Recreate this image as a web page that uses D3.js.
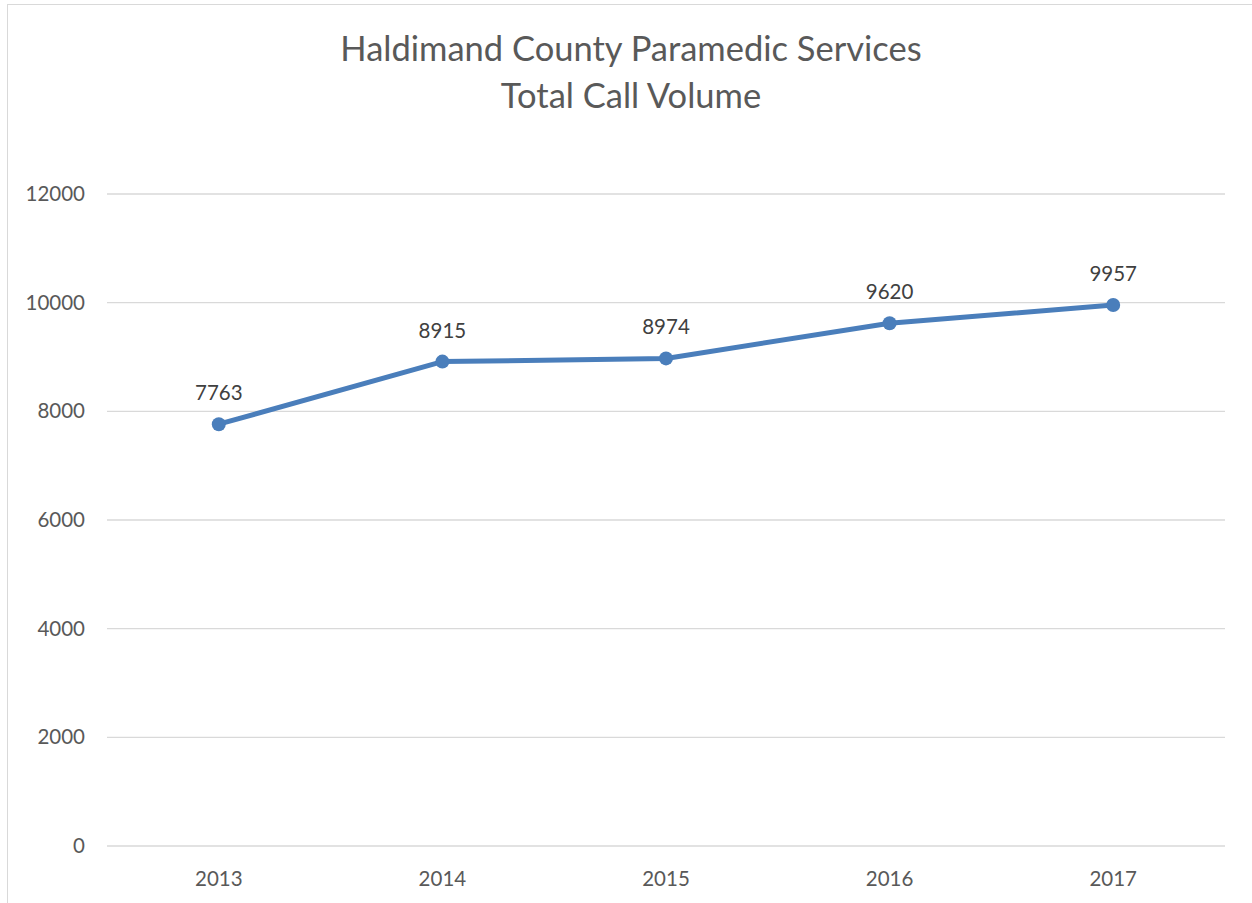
<!DOCTYPE html>
<html><head><meta charset="utf-8">
<script src="https://cdn.jsdelivr.net/npm/d3@7"></script>
<style>body{margin:0;background:#fff}svg{display:block}</style>
</head><body>
<svg id="c" width="1252" height="903"></svg>
<script>
const years = ["2013","2014","2015","2016","2017"];
const calls = [7763, 8915, 8974, 9620, 9957];
const yTicks = [0,2000,4000,6000,8000,10000,12000];
const titleLines = ["Haldimand County Paramedic Services","Total Call Volume"];

const svg = d3.select("#c");
const font = "Lato, 'Open Sans', sans-serif";
svg.append("rect").attr("x",7.5).attr("y",4.5).attr("width",1260).attr("height",920)
  .attr("fill","#fff").attr("stroke","#d9d9d9").attr("stroke-width",1);

const x = d3.scaleBand().domain(years).range([107,1225]);
const y = d3.scaleLinear().domain([0,12000]).range([846,194]);

const g = svg.append("g");
g.selectAll("line.grid").data(yTicks).join("line")
  .attr("x1",107).attr("x2",1225).attr("y1",d=>y(d)).attr("y2",d=>y(d))
  .attr("stroke","#d9d9d9").attr("stroke-width",1.3);

g.selectAll("text.yt").data(yTicks).join("text")
  .attr("x",85).attr("y",d=>y(d)+7).attr("text-anchor","end")
  .attr("font-family",font).attr("font-size",20.5).attr("fill","#595959").text(d=>d);

g.selectAll("text.xt").data(years).join("text")
  .attr("x",d=>x(d)+x.bandwidth()/2).attr("y",886).attr("text-anchor","middle")
  .attr("font-family",font).attr("font-size",20.5).attr("fill","#595959").text(d=>d);

const line = d3.line().x((d,i)=>x(years[i])+x.bandwidth()/2).y(d=>y(d));
g.append("path").datum(calls).attr("d",line).attr("fill","none")
  .attr("stroke","#4a7ebb").attr("stroke-width",5).attr("stroke-linejoin","round");
g.selectAll("circle").data(calls).join("circle")
  .attr("cx",(d,i)=>x(years[i])+x.bandwidth()/2).attr("cy",d=>y(d)).attr("r",7)
  .attr("fill","#4a7ebb");
g.selectAll("text.lbl").data(calls).join("text")
  .attr("x",(d,i)=>x(years[i])+x.bandwidth()/2).attr("y",d=>y(d)-24).attr("text-anchor","middle")
  .attr("font-family",font).attr("font-size",20.5).attr("fill","#404040").text(d=>d);

svg.selectAll("text.title").data(titleLines).join("text")
  .attr("x",631).attr("y",(d,i)=>61+i*47).attr("text-anchor","middle")
  .attr("font-family",font).attr("font-size",34.5).attr("fill","#595959").text(d=>d);
</script>
</body></html>
